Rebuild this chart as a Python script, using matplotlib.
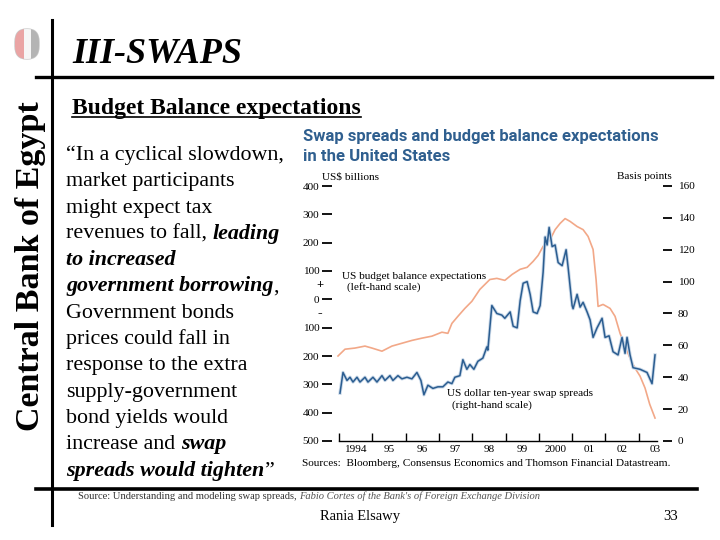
import numpy as np
import matplotlib
matplotlib.use("Agg")
import matplotlib.pyplot as plt
import matplotlib.patches as patches
import matplotlib.patheffects as pe
from matplotlib.transforms import blended_transform_factory

W, H = 720, 540

# ---- chart data ----
budget_years = [1993.97, 1994.18, 1994.48, 1994.78, 1994.99, 1995.29, 1995.59, 1995.89,
                1996.19, 1996.49, 1996.79, 1997.09, 1997.27, 1997.39, 1997.57, 1997.78,
                1997.99, 1998.23, 1998.53, 1998.74, 1998.98, 1999.2, 1999.44, 1999.65,
                1999.83, 1999.98, 2000.13, 2000.34, 2000.49, 2000.64, 2000.79, 2000.94,
                2001.15, 2001.33, 2001.48, 2001.63, 2001.72, 2001.78, 2001.93, 2002.14,
                2002.29, 2002.44, 2002.59, 2002.74, 2002.89, 2003.04, 2003.19, 2003.33,
                2003.49]
budget_vals = [-200, -176, -172, -165, -172, -183, -165, -155, -145, -137, -130, -116,
               -120, -85, -60, -32, -7, 35, 70, 74, 67, 88, 106, 113, 134, 155, 187, 211,
               246, 268, 285, 275, 257, 246, 222, 176, 70, -25, -18, -32, -60, -120, -165,
               -208, -243, -271, -313, -370, -419]

swap_years = [1994.03, 1994.12, 1994.24, 1994.33, 1994.42, 1994.54, 1994.63, 1994.78,
              1994.87, 1995.02, 1995.14, 1995.29, 1995.38, 1995.53, 1995.62, 1995.77,
              1995.89, 1996.04, 1996.19, 1996.34, 1996.46, 1996.55, 1996.67, 1996.82,
              1996.97, 1997.12, 1997.27, 1997.39, 1997.48, 1997.63, 1997.72, 1997.84,
              1997.93, 1998.05, 1998.17, 1998.32, 1998.44, 1998.47, 1998.59, 1998.74,
              1998.89, 1998.98, 1999.14, 1999.23, 1999.35, 1999.44, 1999.53, 1999.65,
              1999.74, 1999.83, 1999.95, 2000.04, 2000.13, 2000.19, 2000.25, 2000.31,
              2000.4, 2000.49, 2000.58, 2000.7, 2000.82, 2000.88, 2001.0, 2001.03,
              2001.15, 2001.24, 2001.33, 2001.45, 2001.54, 2001.63, 2001.75, 2001.9,
              2001.99, 2002.11, 2002.23, 2002.38, 2002.5, 2002.59, 2002.65, 2002.74,
              2002.83, 2003.04, 2003.25, 2003.4, 2003.49]
swap_vals = [30, 43, 38, 40, 37, 40, 37, 40, 37, 40, 37, 41, 38, 41, 38, 41, 39, 40, 39,
             43, 38, 29, 35, 33, 34, 34, 37, 36, 40, 41, 51, 45, 48, 45, 50, 52, 59, 57,
             85, 80, 79, 77, 81, 72, 71, 88, 99, 100, 92, 81, 80, 85, 106, 128, 123, 134,
             122, 123, 112, 110, 120, 109, 85, 83, 92, 84, 87, 81, 76, 65, 71, 77, 65, 66,
             56, 54, 65, 55, 65, 54, 46, 45, 43, 36, 54]

year_ticks = list(range(1994, 2004))
year_labels = ["1994", "95", "96", "97", "98", "99", "2000", "01", "02", "03"]
left_ticks = [400, 300, 200, 100, 0, -100, -200, -300, -400, -500]
left_labels = ["400", "300", "200", "100", "0", "100", "200", "300", "400", "500"]
right_ticks = [0, 20, 40, 60, 80, 100, 120, 140, 160]

quote_lines = [
    [("\u201cIn a cyclical slowdown,", "n")],
    [("market participants", "n")],
    [("might expect tax", "n")],
    [("revenues to fall,", "n"), ("leading", "bi")],
    [("to increased", "bi")],
    [("government borrowing", "bi"), (",", "n")],
    [("Government bonds", "n")],
    [("prices could fall in", "n")],
    [("response to the extra", "n")],
    [("supply-government", "n")],
    [("bond yields would", "n")],
    [("increase and", "n"), ("swap", "bi")],
    [("spreads would tighten", "bi"), ("\u201d", "n")],
]

SERIF = "Liberation Serif"
ORANGE = "#f2a888"
BLUE = "#2b5d90"
TITLE_BLUE = "#2f5f8f"
CS = 8.1  # chart text size


def fx(px):
    return px / W


def fy(py):
    return 1 - py / H


fig = plt.figure(figsize=(7.2, 5.4), dpi=100)
fig.patch.set_facecolor("white")
renderer = fig.canvas.get_renderer()

# ---- slide frame ----
fig.add_artist(plt.Line2D([fx(52), fx(52)], [fy(20), fy(525)], color="black", lw=2.2))
fig.add_artist(plt.Line2D([fx(36), fx(712)], [fy(77), fy(77)], color="black", lw=2.4))
fig.add_artist(plt.Line2D([fx(36), fx(697)], [fy(489), fy(489)], color="black", lw=2.6))

# logo
lax = fig.add_axes([fx(12), fy(61), 30 / W, 34 / H])
lax.set_xlim(0, 1)
lax.set_ylim(0, 1)
lax.axis("off")
shield = patches.FancyBboxPatch((0.1, 0.06), 0.8, 0.88, boxstyle="round,pad=0,rounding_size=0.38",
                                fc="none", ec="#c8c8c8", lw=1.0)
lax.add_patch(shield)
for x0, w0, c in [(0.08, 0.32, "#eaa4a4"), (0.4, 0.22, "#f6f6f6"), (0.62, 0.3, "#b4b4b4")]:
    r = patches.Rectangle((x0, 0.03), w0, 0.94, fc=c, ec="none")
    r.set_clip_path(shield)
    lax.add_patch(r)

fig.text(fx(72), fy(63), "III-SWAPS", family=SERIF, fontsize=26, fontweight="bold",
         fontstyle="italic", va="baseline")
fig.text(fx(31), fy(266), "Central Bank of Egypt", family=SERIF, fontsize=24.5,
         fontweight="bold", rotation=90, ha="center", va="center")

sub = fig.text(fx(72), fy(114), "Budget Balance expectations", family=SERIF, fontsize=17,
               fontweight="bold", va="baseline")
bb = sub.get_window_extent(renderer)
fig.add_artist(plt.Line2D([bb.x0 / W, bb.x1 / W], [fy(117), fy(117)], color="black", lw=1.2))

# quote paragraph with mixed styles
QS = 15.8


def seg_width(txt, style):
    t = fig.text(0, 0, txt, family=SERIF, fontsize=QS,
                 fontweight="bold" if "b" in style else "normal",
                 fontstyle="italic" if "i" in style else "normal")
    w = t.get_window_extent(renderer).width
    t.remove()
    return w


space_w = seg_width("a a", "n") - seg_width("aa", "n")
for i, parts in enumerate(quote_lines):
    x = 66
    base = 160 + 26.3 * i
    for j, (txt, style) in enumerate(parts):
        if j > 0 and not txt.startswith((",", "\u201d")):
            x += space_w
        t = fig.text(fx(x), fy(base), txt, family=SERIF, fontsize=QS, va="baseline",
                     fontweight="bold" if "b" in style else "normal",
                     fontstyle="italic" if "i" in style else "normal")
        x += t.get_window_extent(renderer).width

# footer
src = fig.text(fx(78), fy(499), "Source: Understanding and modeling swap spreads, ",
               family=SERIF, fontsize=7.6, color="#333333", va="baseline")
sb = src.get_window_extent(renderer)
fig.text(sb.x1 / W, fy(499), "Fabio Cortes of the Bank's of Foreign Exchange Division",
         family=SERIF, fontsize=7.6, fontstyle="italic", color="#555555", va="baseline")
fig.text(fx(360), fy(520), "Rania Elsawy", family=SERIF, fontsize=10.5, ha="center",
         va="baseline")
fig.text(fx(678), fy(520), "33", family=SERIF, fontsize=10.5, ha="right", va="baseline")

# ---- embedded chart ----
fig.text(fx(303), fy(141), "Swap spreads and budget balance expectations", family="Roboto",
         fontsize=12, fontweight="bold", color=TITLE_BLUE, va="baseline")
fig.text(fx(303), fy(161), "in the United States", family="Roboto",
         fontsize=12, fontweight="bold", color=TITLE_BLUE, va="baseline")

ax = fig.add_axes([fx(322), fy(441), 350 / W, 255 / H])
ax2 = ax.twinx()
x_left = 1994 + (322 - 339) / 33.3
x_right = 1994 + (672 - 339) / 33.3
ax.set_xlim(x_left, x_right)
ax.set_ylim(-500, 400)
ax2.set_ylim(0, 160)

ax.plot(budget_years, budget_vals, color=ORANGE, lw=1.2, solid_joinstyle="round")
ax2.plot(swap_years, swap_vals, color=BLUE, lw=1.1, solid_joinstyle="round",
         path_effects=[pe.Stroke(linewidth=2.4, foreground="#c9d8e8"), pe.Normal()])

for a in (ax, ax2):
    for s in a.spines.values():
        s.set_visible(False)
    a.patch.set_visible(False)
ax.spines["bottom"].set_visible(True)
ax.spines["bottom"].set_bounds(1994, 2003.55)
ax.spines["bottom"].set_linewidth(1.0)

ax.set_xticks(year_ticks)
ax.set_xticks([y + 0.5 for y in year_ticks], labels=year_labels, minor=True)
ax.tick_params(axis="x", which="major", direction="in", length=6, width=1.0, labelbottom=False)
ax.tick_params(axis="x", which="minor", length=0, pad=3, labelsize=CS)
for lab in ax.get_xticklabels(minor=True):
    lab.set_family(SERIF)

ax.set_yticks(left_ticks, labels=left_labels)
ax.tick_params(axis="y", direction="in", length=7.5, width=1.3, pad=2, labelsize=CS)
for lab in ax.get_yticklabels():
    lab.set_family(SERIF)
ax2.set_yticks(right_ticks)
ax2.tick_params(axis="y", direction="in", length=6.5, width=1.3, pad=4, labelsize=CS)
for lab in ax2.get_yticklabels():
    lab.set_family(SERIF)

lt = blended_transform_factory(ax.transAxes, ax.transData)
ax.text(-0.006, 50, "+", transform=lt, family=SERIF, fontsize=9, fontweight="bold",
        ha="center", va="center")
ax.text(-0.006, -50, "-", transform=lt, family=SERIF, fontsize=10, fontweight="bold",
        ha="center", va="center")

fig.text(fx(322), fy(179), "US$ billions", family=SERIF, fontsize=CS, va="baseline")
fig.text(fx(672), fy(179), "Basis points", family=SERIF, fontsize=CS, ha="right",
         va="baseline")
fig.text(fx(342), fy(279), "US budget balance expectations", family=SERIF, fontsize=CS,
         va="baseline")
fig.text(fx(347), fy(290), "(left-hand scale)", family=SERIF, fontsize=CS, va="baseline")
fig.text(fx(447), fy(396), "US dollar ten-year swap spreads", family=SERIF, fontsize=CS,
         va="baseline")
fig.text(fx(452), fy(408), "(right-hand scale)", family=SERIF, fontsize=CS, va="baseline")
fig.text(fx(302), fy(466),
         "Sources:  Bloomberg, Consensus Economics and Thomson Financial Datastream.",
         family=SERIF, fontsize=CS, va="baseline")

fig.savefig("out.png", dpi=100)
